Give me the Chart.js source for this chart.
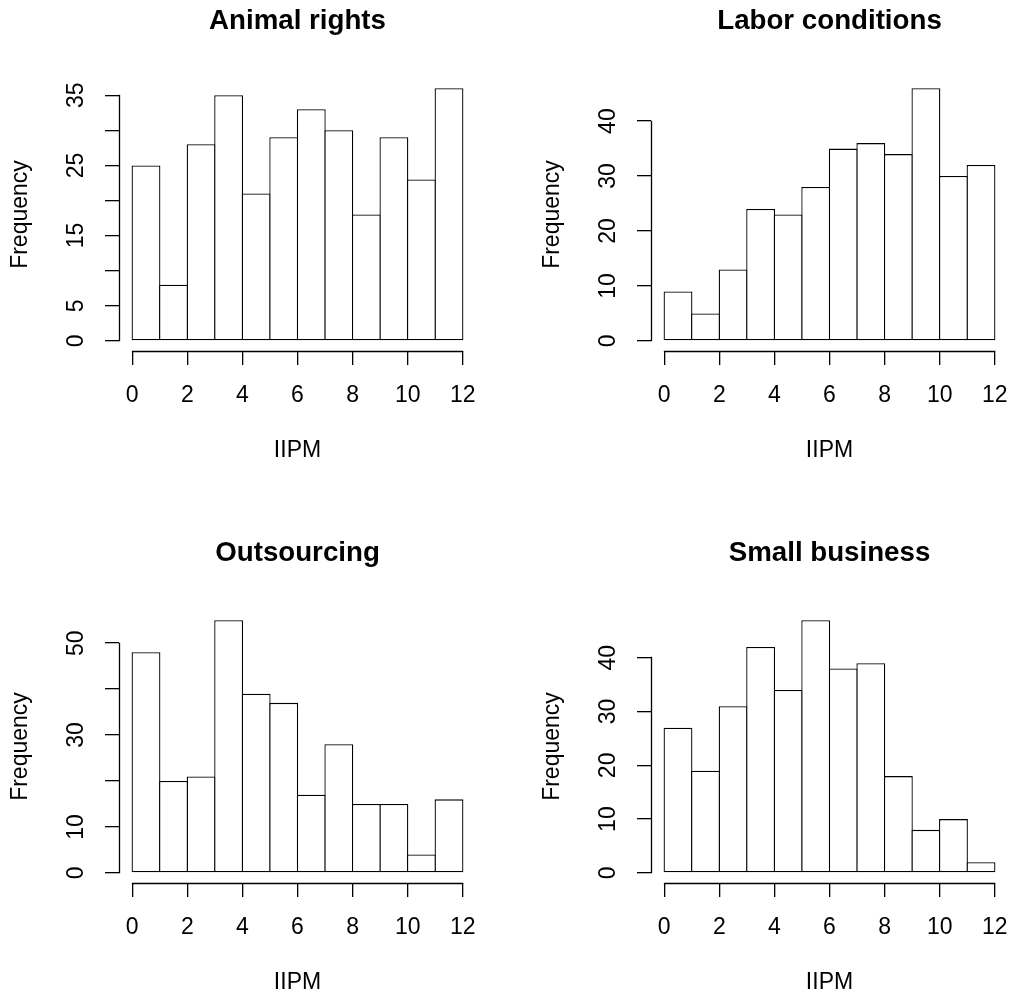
<!DOCTYPE html>
<html>
<head>
<meta charset="utf-8">
<title>IIPM by issue</title>
<script src="https://cdn.jsdelivr.net/npm/chart.js@4.4.1/dist/chart.umd.min.js"></script>
<style>
  html, body { margin: 0; background: #fff; overflow: hidden; }
  #grid { position: relative; width: 1014px; height: 1001px; }
  #grid canvas { position: absolute; }
</style>
</head>
<body>
<div id="grid">
  <canvas id="animal"   width="532" height="532" style="left:0;top:0"></canvas>
  <canvas id="labor"    width="532" height="532" style="left:532px;top:0"></canvas>
  <canvas id="outsrc"   width="532" height="532" style="left:0;top:532px"></canvas>
  <canvas id="smallbiz" width="532" height="532" style="left:532px;top:532px"></canvas>
</div>
<script>
// ── Histogram data (bins of width 1 on 0..12) ─────────────────
const binMids = [0.5, 1.5, 2.5, 3.5, 4.5, 5.5, 6.5, 7.5, 8.5, 9.5, 10.5, 11.5];
const xTicks  = [0, 2, 4, 6, 8, 10, 12];

const animalRights    = [25, 8, 28, 35, 21, 29, 33, 30, 18, 29, 23, 36];
const laborConditions = [9, 5, 13, 24, 23, 28, 35, 36, 34, 46, 30, 32];
const outsourcing     = [48, 20, 21, 55, 39, 37, 17, 28, 15, 15, 4, 16];
const smallBusiness   = [27, 19, 31, 42, 34, 47, 38, 39, 18, 8, 10, 2];

// y ticks per panel; blank labels are ticks R left unlabelled
const animalTicks  = [0, 5, 10, 15, 20, 25, 30, 35];
const animalLabels = ['0', '5', '', '15', '', '25', '', '35'];
const laborTicks   = [0, 10, 20, 30, 40];
const laborLabels  = ['0', '10', '20', '30', '40'];
const outTicks     = [0, 10, 20, 30, 40, 50];
const outLabels    = ['0', '10', '', '30', '', '50'];
const smallTicks   = [0, 10, 20, 30, 40];
const smallLabels  = ['0', '10', '20', '30', '40'];

const panels = [
  { id: 'animal',   title: 'Animal rights',    counts: animalRights,    yTicks: animalTicks, yLabels: animalLabels },
  { id: 'labor',    title: 'Labor conditions', counts: laborConditions, yTicks: laborTicks,  yLabels: laborLabels },
  { id: 'outsrc',   title: 'Outsourcing',      counts: outsourcing,     yTicks: outTicks,    yLabels: outLabels },
  { id: 'smallbiz', title: 'Small business',   counts: smallBusiness,   yTicks: smallTicks,  yLabels: smallLabels },
];

// ── Base-graphics look ────────────────────────────────────────
const FONT = "'Liberation Sans', Arial, Helvetica, sans-serif";
Chart.defaults.font.family = FONT;
Chart.defaults.font.size   = 23;
Chart.defaults.color       = '#000';

const X_MIN = 0, X_MAX = 12;
const PAD   = 0.04;            // usr extension on each side
const LINE  = 1.3;             // stroke weight for bars and axes
const BAR_OVERLAP = 1 + LINE / 27.55;  // widen bars so neighbouring outlines share a line

// axis line drawn only between first and last tick
const rAxisLines = {
  id: 'rAxisLines',
  afterDraw(chart) {
    const { ctx, scales: { x, y } } = chart;
    const al = (p) => Math.round(p - 0.5) + 0.5;
    const yt = y.ticks, xt = x.ticks;
    ctx.save();
    ctx.strokeStyle = '#000';
    ctx.lineWidth   = LINE;
    ctx.lineCap     = 'square';
    ctx.beginPath();
    const ax = al(y.right);
    ctx.moveTo(ax, al(y.getPixelForValue(yt[0].value)));
    ctx.lineTo(ax, al(y.getPixelForValue(yt[yt.length - 1].value)));
    const ay = al(x.top);
    ctx.moveTo(al(x.getPixelForValue(xt[0].value)), ay);
    ctx.lineTo(al(x.getPixelForValue(xt[xt.length - 1].value)), ay);
    ctx.stroke();
    ctx.restore();
  }
};

const renderHistogram = (p) => {
  const top  = Math.max(...p.counts);
  const span = X_MAX - X_MIN;

  new Chart(document.getElementById(p.id), {
    type: 'bar',
    data: {
      datasets: [{
        data: binMids.map((m, i) => ({ x: m, y: p.counts[i] })),
        backgroundColor:    '#fff',
        borderColor:        '#000',
        borderWidth:        LINE,
        borderSkipped:      false,
        inflateAmount:      0,
        barPercentage:      BAR_OVERLAP,
        categoryPercentage: 1,
      }]
    },
    options: {
      responsive: false,
      animation:  false,
      events:     [],
      layout: { padding: { left: 0, right: 56, top: 0, bottom: 51 } },
      plugins: {
        legend:  { display: false },
        tooltip: { enabled: false },
        title: {
          display:  true,
          text:     p.title,
          fullSize: false,
          color:    '#000',
          font:     { size: 27.7, weight: 'bold' },
          padding:  { top: 4.3, bottom: 40.5 },
        },
      },
      scales: {
        x: {
          type:   'linear',
          offset: false,
          bounds: 'data',
          min:    X_MIN - PAD * span,
          max:    X_MAX + PAD * span,
          afterBuildTicks: (s) => { s.ticks = xTicks.map(v => ({ value: v })); },
          afterFit: (s) => { s.height = 130; },
          border: { display: false },
          grid:   { offset: false, drawOnChartArea: false, drawTicks: true, tickLength: 14, color: '#000', lineWidth: LINE },
          ticks:  { autoSkip: false, maxRotation: 0, padding: 16.5, callback: (v) => String(v) },
          title:  { display: true, text: 'IIPM', padding: { top: 0, bottom: 17 } },
        },
        y: {
          type:   'linear',
          bounds: 'data',
          min:    -PAD * top,
          max:    (1 + PAD) * top,
          afterBuildTicks: (s) => { s.ticks = p.yTicks.map(v => ({ value: v })); },
          afterFit: (s) => { s.width = 119; },
          border: { display: false },
          grid:   { drawOnChartArea: false, drawTicks: true, tickLength: 14, color: '#000', lineWidth: LINE },
          ticks:  {
            autoSkip: false,
            minRotation: 90,
            maxRotation: 90,
            crossAlign: 'center',
            padding: 15.2,
            callback: (v, i) => p.yLabels[i],
          },
          title:  { display: true, text: 'Frequency', padding: { top: 6.5, bottom: 0 } },
        }
      }
    },
    plugins: [rAxisLines]
  });
};

panels.forEach(renderHistogram);
</script>
</body>
</html>
